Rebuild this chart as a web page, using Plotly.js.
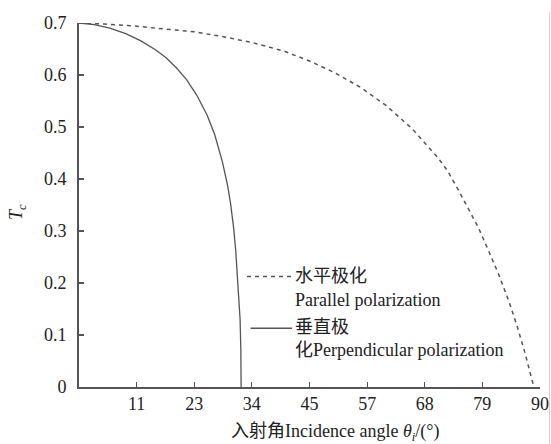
<!DOCTYPE html>
<html>
<head>
<meta charset="utf-8">
<script src="https://cdn.plot.ly/plotly-3.0.1.min.js"></script>
<style>html,body{margin:0;padding:0;background:#fff;}#chart{width:551px;height:444px;}</style>
</head>
<body>
<div id="chart"></div>
<script>
// Perpendicular polarization (solid)
const perpAngle = [0, 3, 6, 9, 12, 15, 17, 19, 21, 23, 25, 26.5, 28, 29, 29.6, 30.2, 30.6, 30.9, 31.2, 31.45, 31.6, 31.65];
const perpTc    = [0.700, 0.697, 0.690, 0.680, 0.666, 0.648, 0.633, 0.614, 0.591, 0.561, 0.523, 0.485, 0.433, 0.388, 0.352, 0.305, 0.262, 0.220, 0.175, 0.130, 0.070, 0.0];
// Parallel polarization (dashed)
const paraAngle = [0, 5, 11, 17, 22.5, 28, 34, 40, 45, 50, 55, 60, 65, 70, 72, 74, 76, 78, 80, 82, 84, 85.5, 87, 88, 88.5, 88.8];
const paraTc    = [0.700, 0.698, 0.694, 0.689, 0.683, 0.674, 0.662, 0.646, 0.627, 0.604, 0.576, 0.541, 0.497, 0.442, 0.415, 0.380, 0.344, 0.306, 0.261, 0.215, 0.163, 0.118, 0.068, 0.030, 0.012, 0.0];
// Axis ticks
const xTickVals = [11.25, 22.5, 33.75, 45, 56.25, 67.5, 78.75, 90];
const xTickText = ['11', '23', '34', '45', '57', '68', '79', '90'];
const yTickVals = [0, 0.1, 0.2, 0.3, 0.4, 0.5, 0.6, 0.7];
const yTickText = ['0', '0.1', '0.2', '0.3', '0.4', '0.5', '0.6', '0.7'];
// Legend labels
const paraName = ['水平极化', 'Parallel polarization'];
const perpName = ['垂直极', '化Perpendicular polarization'];

const FONT = '"Liberation Serif", "Times New Roman", "Noto Sans CJK SC", serif';
const LINE = '#555555';

const traces = [
  {x: paraAngle, y: paraTc, mode: 'lines', line: {color: LINE, width: 1.5, dash: '4px,4px'}, showlegend: false, hoverinfo: 'skip'},
  {x: perpAngle, y: perpTc, yaxis: 'y2', mode: 'lines', line: {color: LINE, width: 1.3}, showlegend: false, hoverinfo: 'skip'}
];

const tf = {family: FONT, size: 18, color: '#222'};
const layout = {
  width: 551, height: 444,
  margin: {l: 79, r: 11, t: 23, b: 57},
  paper_bgcolor: '#fff', plot_bgcolor: '#fff',
  showlegend: false,
  font: tf,
  xaxis: {
    range: [0, 90], showgrid: false, zeroline: false,
    showline: true, linecolor: '#555', linewidth: 1.8,
    ticks: 'inside', ticklen: 5, tickcolor: '#555', tickwidth: 1.2,
    tickvals: xTickVals, ticktext: xTickText, tickfont: tf
  },
  // labels axis: transparent outside ticks push the labels away from the line
  yaxis: {
    range: [0, 0.7], showgrid: false, zeroline: false,
    showline: true, linecolor: '#555', linewidth: 1.8,
    ticks: 'outside', ticklen: 7, tickcolor: 'rgba(0,0,0,0)',
    tickvals: yTickVals, ticktext: yTickText, tickfont: tf
  },
  // overlay axis: draws the visible inside tick marks
  yaxis2: {
    overlaying: 'y', side: 'left', range: [0, 0.7], showgrid: false, zeroline: false,
    showline: false, showticklabels: false,
    ticks: 'inside', ticklen: 5, tickcolor: '#555', tickwidth: 1.2,
    tickvals: yTickVals
  },
  shapes: [
    {type: 'line', xref: 'x', yref: 'y', x0: 32.8, x1: 41.6, y0: 0.2125, y1: 0.2125, line: {color: LINE, width: 1.5, dash: '4px,4px'}},
    {type: 'line', xref: 'x', yref: 'y', x0: 33.5, x1: 41.6, y0: 0.113, y1: 0.113, line: {color: LINE, width: 1.3}},
    {type: 'line', xref: 'paper', yref: 'paper', x0: 1.0206, x1: 1.0206, y0: -0.16, y1: 1.03, line: {color: 'rgba(240,160,160,0.6)', width: 1}}
  ],
  annotations: [
    {xref: 'paper', yref: 'paper', x: 0.556, y: -0.1255, xanchor: 'center', yanchor: 'middle', showarrow: false,
     text: '入射角Incidence angle <i>θ</i><sub><i>i</i></sub>/(°)', font: tf},
    {xref: 'paper', yref: 'paper', x: -0.132, y: 0.481, xanchor: 'center', yanchor: 'middle', showarrow: false, textangle: -90,
     text: '<i>T</i><sub><i>c</i></sub>', font: tf},
    {xref: 'x', yref: 'y', x: 41.8, y: 0.214, xanchor: 'left', yanchor: 'middle', showarrow: false, text: paraName[0], font: tf},
    {xref: 'x', yref: 'y', x: 41.8, y: 0.168, xanchor: 'left', yanchor: 'middle', showarrow: false, text: paraName[1], font: tf},
    {xref: 'x', yref: 'y', x: 41.8, y: 0.115, xanchor: 'left', yanchor: 'middle', showarrow: false, text: perpName[0], font: tf},
    {xref: 'x', yref: 'y', x: 41.8, y: 0.071, xanchor: 'left', yanchor: 'middle', showarrow: false, text: perpName[1], font: tf}
  ]
};

Plotly.newPlot('chart', traces, layout, {staticPlot: true, displayModeBar: false});
</script>
</body>
</html>
